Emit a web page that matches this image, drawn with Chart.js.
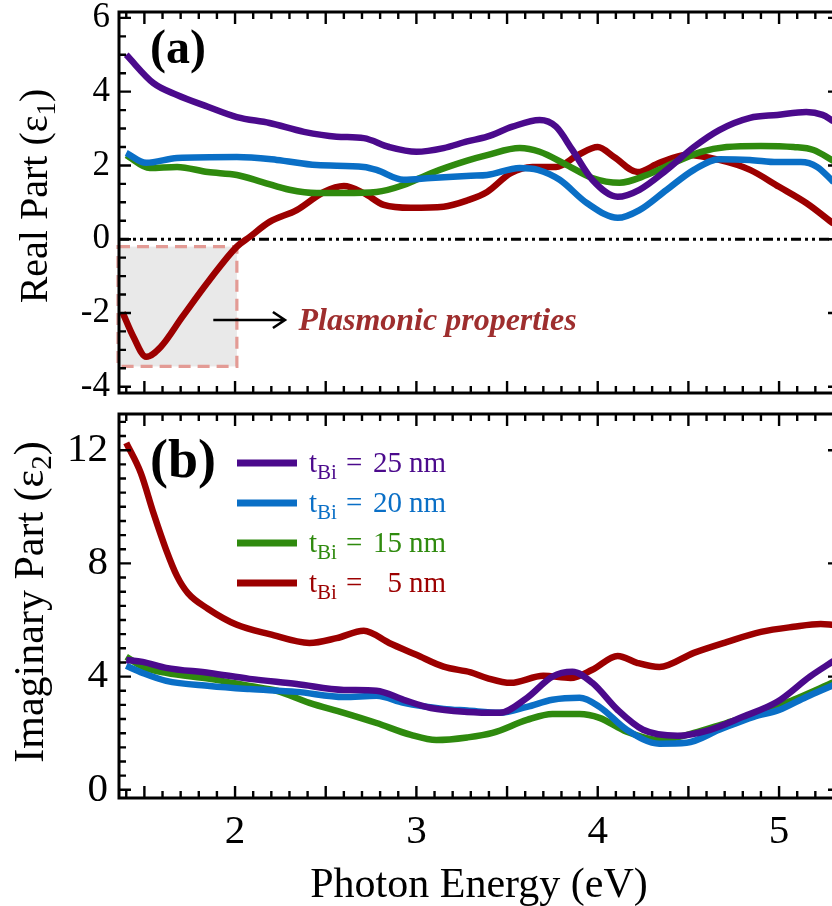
<!DOCTYPE html>
<html><head><meta charset="utf-8">
<script src="https://cdn.jsdelivr.net/npm/chart.js@4.4.1/dist/chart.umd.min.js"></script>
<style>
html,body{margin:0;padding:0;background:#fff;width:832px;height:906px;overflow:hidden;}
#wrap{position:relative;width:832px;height:906px;overflow:hidden;background:#fff;}
#c1,#c2{position:absolute;left:0;}
#c1{top:0;}
#c2{top:400px;}
</style></head>
<body><div id="wrap"><canvas id="c1" width="842" height="400"></canvas><canvas id="c2" width="842" height="506"></canvas></div>
<script>
// ---------- data ----------
const seriesLabels = ['25', '20', '15', '5'];            // t_Bi in nm
const seriesColors = ['#4b0a8c', '#0a6fc6', '#2f8a0e', '#9c0000'];

const xTicks = [2, 3, 4, 5];
const realTicks = [-4, -2, 0, 2, 4, 6];
const imagTicks = [0, 4, 8, 12];

// Real part (eps1)
const e1_25_x = [1.40,1.55,1.68,1.85,2.01,2.19,2.38,2.56,2.71,2.85,3.00,3.15,3.28,3.39,3.53,3.68,3.77,3.86,3.97,4.11,4.23,4.38,4.53,4.67,4.84,4.99,5.15,5.24,5.30];
const e1_25_y = [5.00,4.23,3.91,3.59,3.31,3.15,2.91,2.78,2.74,2.50,2.37,2.47,2.65,2.78,3.05,3.23,3.05,2.42,1.61,1.15,1.34,1.88,2.50,2.96,3.29,3.37,3.45,3.37,3.20];
const e1_20_x = [1.40,1.51,1.68,2.01,2.23,2.45,2.71,2.78,2.93,3.08,3.30,3.39,3.57,3.67,3.79,3.94,4.11,4.23,4.38,4.53,4.67,4.84,4.99,5.12,5.21,5.30];
const e1_20_y = [2.34,2.07,2.20,2.23,2.15,2.01,1.96,1.88,1.61,1.66,1.72,1.74,1.93,1.88,1.61,0.98,0.58,0.79,1.34,1.88,2.17,2.15,2.09,2.09,1.96,1.55];
const e1_15_x = [1.40,1.53,1.68,1.85,2.01,2.15,2.30,2.45,2.60,2.78,2.93,3.08,3.28,3.39,3.57,3.68,3.83,3.97,4.12,4.27,4.42,4.57,4.71,4.90,5.08,5.19,5.30];
const e1_15_y = [2.28,1.93,1.96,1.82,1.74,1.55,1.34,1.25,1.25,1.28,1.47,1.79,2.13,2.28,2.47,2.37,2.01,1.66,1.53,1.74,2.07,2.37,2.50,2.53,2.50,2.42,2.12];
const e1_5_x  = [1.38,1.44,1.51,1.59,1.71,1.86,2.01,2.08,2.19,2.34,2.49,2.60,2.71,2.82,2.97,3.15,3.28,3.39,3.52,3.64,3.77,3.89,4.00,4.09,4.22,4.34,4.49,4.67,4.84,5.00,5.15,5.30];
const e1_5_y  = [-1.99,-2.65,-3.19,-2.92,-2.10,-1.10,-0.20,0.06,0.47,0.79,1.28,1.44,1.25,0.93,0.85,0.88,1.05,1.28,1.79,1.96,1.96,2.28,2.50,2.23,1.82,2.07,2.28,2.15,1.88,1.42,0.98,0.42];

// Imaginary part (eps2)
const e2_25_x = [1.40,1.49,1.62,1.86,2.08,2.34,2.60,2.78,2.93,3.08,3.28,3.46,3.61,3.75,3.86,3.97,4.11,4.25,4.44,4.62,4.80,4.99,5.17,5.30];
const e2_25_y = [4.59,4.52,4.31,4.13,3.92,3.74,3.53,3.50,3.18,2.89,2.75,2.72,3.25,4.00,4.17,3.78,2.82,2.12,1.91,2.12,2.58,3.11,4.00,4.55];
const e2_20_x = [1.40,1.49,1.62,1.86,2.08,2.34,2.60,2.78,2.93,3.15,3.28,3.46,3.61,3.75,3.90,4.01,4.16,4.34,4.49,4.67,4.86,5.00,5.15,5.30];
const e2_20_y = [4.38,4.13,3.85,3.67,3.56,3.46,3.28,3.32,3.07,2.86,2.80,2.72,2.93,3.18,3.25,2.93,2.12,1.63,1.66,2.12,2.58,2.82,3.28,3.70];
const e2_15_x = [1.40,1.49,1.62,1.86,2.08,2.23,2.41,2.60,2.78,2.97,3.11,3.28,3.42,3.61,3.75,3.90,4.01,4.16,4.34,4.53,4.71,4.90,5.08,5.30];
const e2_15_y = [4.70,4.35,4.13,3.92,3.67,3.50,3.07,2.72,2.36,1.94,1.76,1.85,2.01,2.47,2.68,2.68,2.54,2.05,1.76,2.01,2.36,2.72,3.18,3.80];
const e2_5_x  = [1.40,1.48,1.55,1.62,1.68,1.74,1.85,2.01,2.19,2.41,2.56,2.71,2.85,3.00,3.15,3.30,3.39,3.52,3.70,3.85,3.97,4.11,4.22,4.34,4.53,4.71,4.90,5.08,5.23,5.30];
const e2_5_y  = [12.26,11.2,9.78,8.48,7.55,6.95,6.40,5.83,5.50,5.19,5.36,5.62,5.19,4.77,4.35,4.15,3.95,3.78,4.03,3.95,4.24,4.73,4.48,4.34,4.84,5.22,5.58,5.76,5.86,5.83];

// ---------- helpers ----------
const SERIF = '"Liberation Serif","Times New Roman",Times,serif';
const pts = (xs, ys) => xs.map((v, i) => ({x: v, y: ys[i]}));

function ds(label, color, xs, ys) {
  return {label, data: pts(xs, ys), borderColor: color, backgroundColor: color,
          borderWidth: 6.5, pointRadius: 0, tension: 0.4, cubicInterpolationMode: 'monotone',
          fill: false, clip: false};
}

function richWidth(ctx, parts) {
  let w = 0;
  for (const p of parts) { ctx.font = p.font; w += ctx.measureText(p.t).width; }
  return w;
}
function drawRich(ctx, parts, x, y) {
  let cx = x;
  for (const p of parts) {
    ctx.font = p.font; ctx.fillStyle = p.color || '#000';
    ctx.fillText(p.t, cx, y + (p.dy || 0));
    cx += ctx.measureText(p.t).width;
  }
  return cx;
}

const frameTicks = {
  id: 'frameTicks',
  afterDatasetsDraw(chart, args, o) {
    const {ctx, chartArea: a, scales: {x, y}} = chart;
    ctx.save();
    ctx.strokeStyle = '#000';
    ctx.lineWidth = 3;
    ctx.setLineDash([]);
    ctx.strokeRect(a.left, a.top, a.right - a.left, a.bottom - a.top);
    ctx.lineWidth = 2.4;
    ctx.beginPath();
    const k0 = Math.ceil(x.min * 10 - 1e-9), k1 = Math.floor(x.max * 10 + 1e-9);
    for (let k = k0; k <= k1; k++) {
      const px = x.getPixelForValue(k / 10);
      const len = (k % 5 === 0) ? 12 : 7;
      ctx.moveTo(px, a.bottom); ctx.lineTo(px, a.bottom - len);
      ctx.moveTo(px, a.top); ctx.lineTo(px, a.top + len);
    }
    const st = o.yMinor;
    const j0 = Math.ceil(y.min / st - 1e-9), j1 = Math.floor(y.max / st + 1e-9);
    for (let j = j0; j <= j1; j++) {
      const v = j * st;
      const py = y.getPixelForValue(v);
      const r = v / o.yMajor;
      const major = Math.abs(r - Math.round(r)) < 1e-6;
      const len = major ? 12 : 7;
      ctx.moveTo(a.left, py); ctx.lineTo(a.left + len, py);
      if (major) { ctx.moveTo(a.right, py); ctx.lineTo(a.right - len, py); }
    }
    ctx.stroke();
    // panel label
    ctx.fillStyle = '#000';
    ctx.font = 'bold ' + o.panelSize + 'px ' + SERIF;
    ctx.textBaseline = 'alphabetic';
    ctx.fillText(o.panel, a.left + 31, a.top + o.panelDy);
    // y axis title
    ctx.save();
    ctx.translate(o.titleX, o.titleY);
    ctx.rotate(-Math.PI / 2);
    const big = o.titleSize + 'px ' + SERIF, small = Math.round(o.titleSize * 0.68) + 'px ' + SERIF;
    const parts = [{t: o.yTitle + ' (\u03b5', font: big}, {t: o.sub, font: small, dy: 8}, {t: ')', font: big}];
    const w = richWidth(ctx, parts);
    drawRich(ctx, parts, -w / 2, 0);
    ctx.restore();
    ctx.restore();
  }
};

const zeroBox = {
  id: 'zeroBox',
  beforeDatasetsDraw(chart) {
    const {ctx, chartArea: a, scales: {x, y}} = chart;
    ctx.save();
    // shaded plasmonic region
    const bx0 = x.getPixelForValue(x.min) - 1, bx1 = x.getPixelForValue(2.01);
    const by0 = y.getPixelForValue(-0.2), by1 = y.getPixelForValue(-3.45);
    ctx.fillStyle = '#e9e9e9';
    ctx.fillRect(bx0, by0, bx1 - bx0, by1 - by0);
    ctx.setLineDash([12, 7]);
    ctx.strokeStyle = '#e39b95';
    ctx.lineWidth = 3.2;
    ctx.strokeRect(bx0, by0, bx1 - bx0, by1 - by0);
    // y = 0 dash-dot-dot line
    ctx.setLineDash([10, 4, 3, 4, 3, 4]);
    ctx.strokeStyle = '#000';
    ctx.lineWidth = 3;
    const py = y.getPixelForValue(0);
    ctx.beginPath(); ctx.moveTo(a.left, py); ctx.lineTo(a.right, py); ctx.stroke();
    ctx.restore();
  },
  afterDatasetsDraw(chart) {
    const {ctx, scales: {x, y}} = chart;
    ctx.save();
    const ay = y.getPixelForValue(-2.19);
    const ax0 = x.getPixelForValue(1.88), ax1 = x.getPixelForValue(2.275);
    ctx.strokeStyle = '#000'; ctx.lineWidth = 2.6; ctx.setLineDash([]);
    ctx.beginPath(); ctx.moveTo(ax0, ay); ctx.lineTo(ax1, ay);
    ctx.moveTo(ax1 - 12, ay - 8); ctx.lineTo(ax1, ay); ctx.lineTo(ax1 - 12, ay + 8);
    ctx.stroke();
    ctx.fillStyle = '#9e2e2e';
    ctx.font = 'italic bold 32px ' + SERIF;
    ctx.textBaseline = 'middle';
    ctx.fillText('Plasmonic properties', x.getPixelForValue(2.35), ay + 2);
    ctx.restore();
  }
};

const legendRich = {
  id: 'legendRich',
  afterDatasetsDraw(chart) {
    const {ctx} = chart;
    ctx.save();
    const big = '29px ' + SERIF, small = '21px ' + SERIF;
    const rows = [63, 103, 143, 183];
    seriesLabels.forEach((lab, i) => {
      const yy = rows[i];
      ctx.strokeStyle = seriesColors[i]; ctx.lineWidth = 7;
      ctx.beginPath(); ctx.moveTo(237, yy); ctx.lineTo(297, yy); ctx.stroke();
      const base = yy + 9;
      ctx.textBaseline = 'alphabetic';
      drawRich(ctx, [{t: 't', font: big, color: seriesColors[i]},
                     {t: 'Bi', font: small, dy: 7, color: seriesColors[i]}], 309, base);
      ctx.font = big; ctx.fillStyle = seriesColors[i];
      ctx.fillText('=', 346, base);
      const nw = ctx.measureText(lab).width;
      ctx.fillText(lab, 402 - nw, base);
      ctx.fillText('nm', 409, base);
    });
    // x axis title
    ctx.fillStyle = '#000';
    ctx.font = '42px ' + SERIF;
    ctx.textAlign = 'center';
    ctx.fillText('Photon Energy (eV)', 479, 497);
    ctx.restore();
  }
};

const X_MIN = 1.36, X_MAX = 5.336;

function yScale(min, max, ticksArr, size, pad) {
  return {
    type: 'linear', min, max,
    grid: {display: false, drawTicks: false}, border: {display: false},
    afterBuildTicks: s => { s.ticks = ticksArr.map(v => ({value: v})); },
    afterFit: s => { s.width = 119; s.paddingTop = 0; s.paddingBottom = 0; },
    ticks: {font: {family: SERIF, size}, color: '#000', padding: pad}
  };
}

// ---------- top panel ----------
new Chart(document.getElementById('c1'), {
  type: 'line',
  data: {datasets: [
    ds(seriesLabels[0], seriesColors[0], e1_25_x, e1_25_y),
    ds(seriesLabels[1], seriesColors[1], e1_20_x, e1_20_y),
    ds(seriesLabels[2], seriesColors[2], e1_15_x, e1_15_y),
    ds(seriesLabels[3], seriesColors[3], e1_5_x, e1_5_y)
  ]},
  options: {
    responsive: false, animation: false, devicePixelRatio: 1,
    layout: {padding: {left: 0, right: 2, top: 12, bottom: 0}},
    plugins: {legend: {display: false}, tooltip: {enabled: false},
      frameTicks: {yMinor: 0.5, yMajor: 2, panel: '(a)', panelSize: 48, panelDy: 51,
                   yTitle: 'Real Part', sub: '1', titleSize: 40, titleX: 47, titleY: 196}},
    scales: {
      x: {type: 'linear', min: X_MIN, max: X_MAX, grid: {display: false, drawTicks: false}, border: {display: false},
          ticks: {display: false},
          afterFit: s => { s.height = 7; s.paddingLeft = 0; s.paddingRight = 0; }},
      y: yScale(-4.17, 6.16, realTicks, 35, 9)
    }
  },
  plugins: [zeroBox, frameTicks]
});

// ---------- bottom panel ----------
new Chart(document.getElementById('c2'), {
  type: 'line',
  data: {datasets: [
    ds(seriesLabels[0], seriesColors[0], e2_25_x, e2_25_y),
    ds(seriesLabels[1], seriesColors[1], e2_20_x, e2_20_y),
    ds(seriesLabels[2], seriesColors[2], e2_15_x, e2_15_y),
    ds(seriesLabels[3], seriesColors[3], e2_5_x, e2_5_y)
  ]},
  options: {
    responsive: false, animation: false, devicePixelRatio: 1,
    layout: {padding: {left: 0, right: 2, top: 14, bottom: 0}},
    plugins: {legend: {display: false}, tooltip: {enabled: false},
      frameTicks: {yMinor: 0.5, yMajor: 4, panel: '(b)', panelSize: 54, panelDy: 63,
                   yTitle: 'Imaginary Part', sub: '2', titleSize: 42, titleX: 43, titleY: 202}},
    scales: {
      x: {type: 'linear', min: X_MIN, max: X_MAX, grid: {display: false, drawTicks: false}, border: {display: false},
          afterBuildTicks: s => { s.ticks = xTicks.map(v => ({value: v})); },
          afterFit: s => { s.height = 108; s.paddingLeft = 0; s.paddingRight = 0; },
          ticks: {font: {family: SERIF, size: 41}, color: '#000', padding: 10, maxRotation: 0}},
      y: yScale(-0.29, 13.28, imagTicks, 41, 11)
    }
  },
  plugins: [frameTicks, legendRich]
});
</script>
</body></html>
